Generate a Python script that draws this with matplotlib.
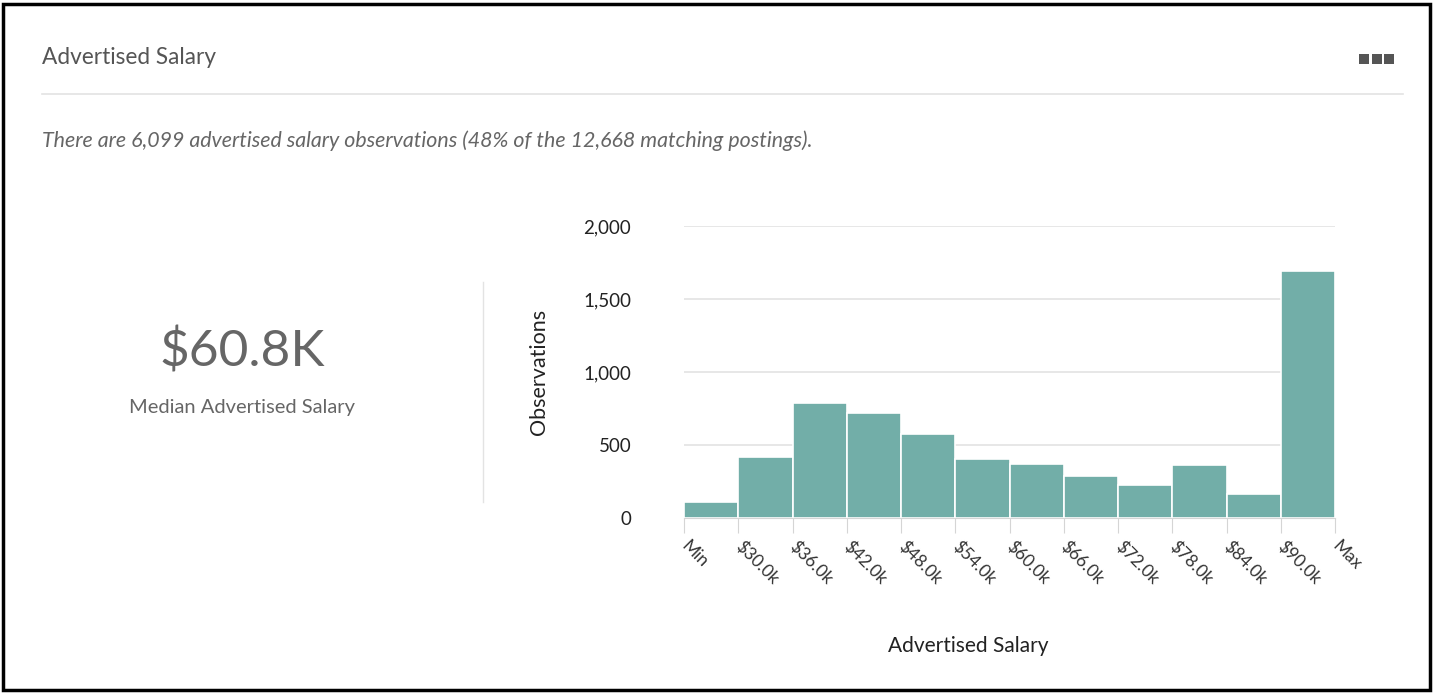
import matplotlib
matplotlib.use("Agg")
import matplotlib.pyplot as plt
import matplotlib.transforms as mtransforms
from matplotlib.patches import Rectangle
from matplotlib.lines import Line2D
import numpy as np

# histogram bins (advertised salary) and observation counts
bin_labels = ["Min", "$30.0k", "$36.0k", "$42.0k", "$48.0k", "$54.0k", "$60.0k",
              "$66.0k", "$72.0k", "$78.0k", "$84.0k", "$90.0k", "Max"]
counts = [110, 420, 785, 721, 573, 404, 368, 290, 226, 361, 162, 1690]
y_ticks = [0, 500, 1000, 1500, 2000]

median_text = "$60.8K"
subtitle = "There are 6,099 advertised salary observations (48% of the 12,668 matching postings)."

W, H = 1437, 694
plt.rcParams['font.family'] = ['Lato', 'DejaVu Sans']

fig = plt.figure(figsize=(W / 100, H / 100), dpi=100)

def fx(px):
    return px / W

def fy(py):
    return 1 - py / H

# outer frame
fig.patches.append(Rectangle((fx(3), fy(690)), fx(1430 - 3), (690 - 4) / H,
                             transform=fig.transFigure, fill=False,
                             edgecolor="black", linewidth=2.5))

# header
fig.text(fx(42), fy(57), "Advertised Salary", fontsize=16.3, color="#555555",
         ha="left", va="center")
for i in range(3):
    fig.patches.append(Rectangle((fx(1359 + i * 12.5), fy(64)), fx(10), 10 / H,
                                 transform=fig.transFigure, facecolor="#555555",
                                 edgecolor="none"))
fig.lines.append(Line2D([fx(42), fx(1403)], [fy(94), fy(94)],
                        transform=fig.transFigure, color="#e3e3e3", linewidth=1.2))
fig.text(fx(42), fy(141), subtitle, fontsize=15.4, style="italic", color="#666666",
         ha="left", va="center")

# median panel
fig.text(fx(242), fy(352), median_text, fontsize=37, color="#666666",
         ha="center", va="center")
fig.text(fx(242), fy(408), "Median Advertised Salary", fontsize=14.5, color="#666666",
         ha="center", va="center")
fig.lines.append(Line2D([fx(483), fx(483)], [fy(282), fy(502)],
                        transform=fig.transFigure, color="#e3e3e3", linewidth=1))

# histogram
ax = fig.add_axes([fx(684), fy(518), fx(1335 - 684), (518 - 226) / H])
edges = np.arange(len(bin_labels))
ax.bar(edges[:-1], counts, width=1, align="edge", color="#72aea8",
       edgecolor="white", linewidth=1.2, zorder=2)
ax.set_xlim(0, len(bin_labels) - 1)
ax.set_ylim(0, 2000)
ax.set_yticks(y_ticks)
ax.set_yticklabels([f"{v:,}" for v in y_ticks])
ax.set_xticks(edges)
ax.set_xticklabels(bin_labels, rotation=-45, rotation_mode="anchor",
                   ha="left", va="center")
shift = mtransforms.ScaledTranslation(-5 / 100, 0, fig.dpi_scale_trans)
for lbl in ax.get_xticklabels():
    lbl.set_transform(lbl.get_transform() + shift)
ax.yaxis.grid(True, color="#e3e3e3", linewidth=1.2, zorder=0)
ax.set_axisbelow(True)
for s in ["top", "right", "left"]:
    ax.spines[s].set_visible(False)
ax.spines["bottom"].set_color("#d5d5d5")
ax.tick_params(axis="y", length=0, pad=38, labelsize=13.5, labelcolor="#222222")
for lbl in ax.get_yticklabels():
    lbl.set_horizontalalignment("right")
ax.tick_params(axis="x", length=10.5, color="#d5d5d5", pad=8, labelsize=12.5,
               labelcolor="#333333")
ax.set_ylabel("Observations", fontsize=15.5, color="#222222")
ax.yaxis.set_label_coords(-0.208, 0.5)
ax.set_xlabel("Advertised Salary", fontsize=15, color="#222222")
ax.xaxis.set_label_coords(0.436, -0.403)

fig.savefig("out.png", dpi=100)
